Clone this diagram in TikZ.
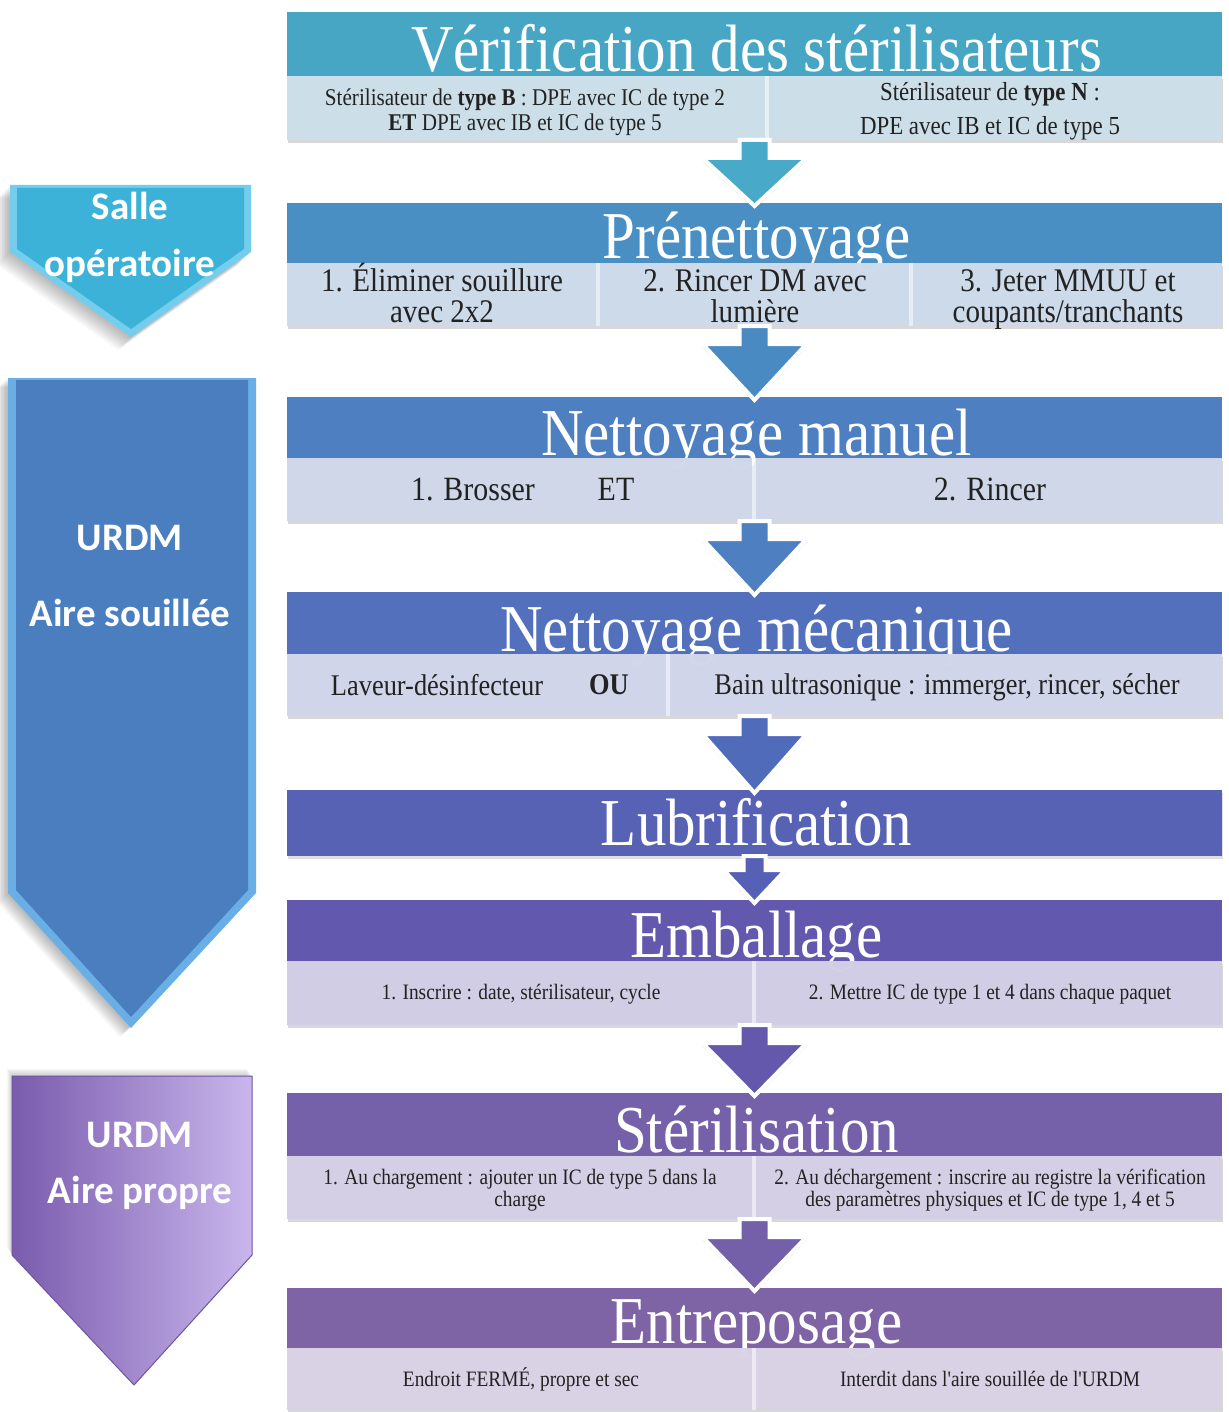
\documentclass[tikz,border=0pt]{standalone}
\usepackage{fontspec}
\setmainfont{Liberation Serif}
\newfontfamily\hf[FakeStretch=0.88]{Liberation Serif}
\newfontfamily\lf{Carlito}
\usetikzlibrary{shadows,calc}
\definecolor{c1h}{HTML}{48A6C5}\definecolor{c1s}{HTML}{C9DDE7}
\definecolor{c2h}{HTML}{4A8FC4}\definecolor{c2s}{HTML}{C9D8E9}
\definecolor{c3h}{HTML}{4E80C1}\definecolor{c3s}{HTML}{CCD5E8}
\definecolor{c4h}{HTML}{5270BC}\definecolor{c4s}{HTML}{CDD2E9}
\definecolor{c5h}{HTML}{5762B5}
\definecolor{c6h}{HTML}{6259AE}\definecolor{c6s}{HTML}{CDCAE4}
\definecolor{c7h}{HTML}{7461A9}\definecolor{c7s}{HTML}{D3CCE4}
\definecolor{c8h}{HTML}{7E64A4}\definecolor{c8s}{HTML}{D7CFE4}
\definecolor{a1}{HTML}{49A9C9}\definecolor{a2}{HTML}{4A8AC3}
\definecolor{a3}{HTML}{4E7FC1}\definecolor{a4}{HTML}{516BBB}
\definecolor{a5}{HTML}{5660B5}\definecolor{a6}{HTML}{6458AD}
\definecolor{a7}{HTML}{7460A9}
\definecolor{txt}{HTML}{222222}
\definecolor{soBev}{HTML}{74CDEC}\definecolor{soMain}{HTML}{3DB2D8}
\definecolor{usBev}{HTML}{6AAEE6}\definecolor{usMain}{HTML}{4A7EBF}
\definecolor{apL}{HTML}{7A5BAD}\definecolor{apR}{HTML}{C8B6EC}\definecolor{apE}{HTML}{6B55A3}
\newcommand\nodepth[1]{\raisebox{0pt}[\height][0pt]{#1}}
\tikzset{
  headbox/.style={fill=#1, draw=none, inner sep=0pt, outer sep=0pt, minimum width=935pt, anchor=north west},
  subbg/.style={fill=#1!45!white, draw=none, inner sep=0pt, outer sep=0pt, minimum width=935pt, anchor=north west,
     drop shadow={shadow xshift=1pt, shadow yshift=-3pt, opacity=0.3}},
  cellbox/.style={fill=#1, fill opacity=0.88, draw=none, inner sep=0pt, outer sep=0pt, anchor=north west},
  title/.style={text=white, font=\hf\fontsize{67}{67}\selectfont, inner sep=0pt, anchor=base},
  ct/.style={text=txt, inner sep=0pt, anchor=base},
  lbl/.style={text=white, font=\lf\bfseries\fontsize{39}{57}\selectfont, align=center, inner sep=0pt},
  arrshadow/.style={drop shadow={shadow xshift=0pt, shadow yshift=-3pt, opacity=0.25}}
}
\newcommand\flowarrow[6]{%
  \path[fill=#3, draw=white, line width=4pt, line join=miter, arrshadow]
  let \p1=(#1.south), \p2=(#2.north) in
  (\x2-#4pt,\y1) -- (\x2-#4pt,\y1-#6pt) -- (\x2-#5pt,\y1-#6pt) -- (\x2,\y2-3pt)
  -- (\x2+#5pt,\y1-#6pt) -- (\x2+#4pt,\y1-#6pt) -- (\x2+#4pt,\y1) -- cycle;}
\begin{document}
\begin{tikzpicture}[x=1pt,y=-1pt]
\useasboundingbox (0,0) rectangle (1228,1412);
\fill[white] (0,0) rectangle (1228,1412);

% ---------- left zone arrows ----------
% Salle operatoire
\foreach \i in {1,...,8}{
  \fill[black, opacity=0.035, shift={(-\i*1.6,\i*1.6)}] (10,185) -- (251,185) -- (251,252) -- (131,337) -- (10,252) -- cycle;}
\fill[soBev] (10,185) -- (251,185) -- (251,252) -- (131,337) -- (10,252) -- cycle;
\fill[soMain] (17,188) -- (244,188) -- (244,249) -- (131,329) -- (17,249) -- cycle;
\node[lbl] (zone1) at (130,237) {Salle\\opératoire};

% URDM Aire souillee
\foreach \i in {1,...,8}{
  \fill[black, opacity=0.035, shift={(-\i*1.4,\i*1.1)}] (8,378) -- (256,378) -- (256,893) -- (131,1028) -- (8,893) -- cycle;}
\fill[usBev] (8,378) -- (256,378) -- (256,893) -- (131,1028) -- (8,893) -- cycle;
\fill[usMain] (16,380) -- (248,380) -- (248,890) -- (131,1017) -- (16,890) -- cycle;
\node[lbl, font=\lf\bfseries\fontsize{39}{76}\selectfont] (zone2) at (130,576) {URDM\\Aire souillée};

% URDM Aire propre
\foreach \i in {1,...,6}{
  \fill[black, opacity=0.03, shift={(-\i*0.8,-\i*1.2)}] (12,1076) -- (252,1076) -- (252,1255) -- (134,1385) -- (12,1255) -- cycle;}
\shade[left color=apL, right color=apR] (12,1076) -- (252,1076) -- (252,1255) -- (134,1385) -- (12,1255) -- cycle;
\draw[apE, line width=1pt] (12,1076) -- (252,1076) -- (252,1255) -- (134,1385) -- (12,1255) -- cycle;
\node[lbl, font=\lf\bfseries\fontsize{39}{56}\selectfont] (zone3) at (140,1166) {URDM\\Aire propre};

% ---------- Block 1 : Verification ----------
\node[headbox=c1h, minimum height=64pt] (h1) at (287,12) {};
\node[subbg=c1s, minimum height=64pt] (s1) at (287,76) {};
\node[title] (t1) at (756.5,72) {\nodepth{Vérification des stérilisateurs}};
\node[cellbox=c1s, minimum width=478pt, minimum height=64pt] (s1a) at (287,76) {};
\node[cellbox=c1s, minimum width=453pt, minimum height=64pt] (s1b) at (769,76) {};
\node[ct, font=\hf\fontsize{24}{24}\selectfont] (x1a1) at (525,106) {Stérilisateur de \textbf{type B} : DPE avec IC de type 2};
\node[ct, font=\hf\fontsize{24}{24}\selectfont] (x1a2) at (525,131) {\textbf{ET} DPE avec IB et IC de type 5};
\node[ct, font=\hf\fontsize{26}{26}\selectfont] (x1b1) at (990,101) {Stérilisateur de \textbf{type N} :};
\node[ct, font=\hf\fontsize{26}{26}\selectfont] (x1b2) at (990,135) {DPE avec IB et IC de type 5};

% ---------- Block 2 : Prenettoyage ----------
\node[headbox=c2h, minimum height=60pt] (h2) at (287,203) {};
\node[subbg=c2s, minimum height=63pt] (s2) at (287,263) {};
\node[title] (t2) at (756.5,259) {\nodepth{Prénettoyage}};
\node[cellbox=c2s, minimum width=309pt, minimum height=63pt] (s2a) at (287,263) {};
\node[cellbox=c2s, minimum width=309pt, minimum height=63pt] (s2b) at (600,263) {};
\node[cellbox=c2s, minimum width=309pt, minimum height=63pt] (s2c) at (913,263) {};
\node[ct, font=\hf\fontsize{33}{33}\selectfont] (x2a1) at (442,292) {1. Éliminer souillure};
\node[ct, font=\hf\fontsize{33}{33}\selectfont] (x2a2) at (442,322) {avec 2x2};
\node[ct, font=\hf\fontsize{33}{33}\selectfont] (x2b1) at (755,292) {2. Rincer DM avec};
\node[ct, font=\hf\fontsize{33}{33}\selectfont] (x2b2) at (755,322) {lumière};
\node[ct, font=\hf\fontsize{33}{33}\selectfont] (x2c1) at (1068,292) {3. Jeter MMUU et};
\node[ct, font=\hf\fontsize{33}{33}\selectfont] (x2c2) at (1068,322) {coupants/tranchants};

% ---------- Block 3 : Nettoyage manuel ----------
\node[headbox=c3h, minimum height=61pt] (h3) at (287,397) {};
\node[subbg=c3s, minimum height=63pt] (s3) at (287,458) {};
\node[title] (t3) at (756.5,455) {\nodepth{Nettoyage manuel}};
\node[cellbox=c3s, minimum width=465pt, minimum height=63pt] (s3a) at (287,458) {};
\node[cellbox=c3s, minimum width=466pt, minimum height=63pt] (s3b) at (756,458) {};
\node[ct, font=\hf\fontsize{34}{34}\selectfont] (x3a) at (473,500) {1. Brosser};
\node[ct, font=\hf\fontsize{34}{34}\selectfont] (x3b) at (616,500) {ET};
\node[ct, font=\hf\fontsize{34}{34}\selectfont] (x3c) at (990,500) {2. Rincer};

% ---------- Block 4 : Nettoyage mecanique ----------
\node[headbox=c4h, minimum height=62pt] (h4) at (287,592) {};
\node[subbg=c4s, minimum height=62pt] (s4) at (287,654) {};
\node[title] (t4) at (756.5,651) {\nodepth{Nettoyage mécanique}};
\node[cellbox=c4s, minimum width=379pt, minimum height=62pt] (s4a) at (287,654) {};
\node[cellbox=c4s, minimum width=552pt, minimum height=62pt] (s4b) at (670,654) {};
\node[ct, font=\hf\fontsize{30}{30}\selectfont] (x4a) at (437,695) {Laveur-désinfecteur};
\node[ct, font=\hf\bfseries\fontsize{30}{30}\selectfont] (x4b) at (609,694) {OU};
\node[ct, font=\hf\fontsize{30}{30}\selectfont] (x4c) at (947,694) {Bain ultrasonique : immerger, rincer, sécher};

% ---------- Block 5 : Lubrification ----------
\node[headbox=c5h, minimum height=66pt, drop shadow={shadow xshift=1pt, shadow yshift=-3pt, opacity=0.25}] (h5) at (287,790) {};
\node[title] (t5) at (756.5,845) {Lubrification};

% ---------- Block 6 : Emballage ----------
\node[headbox=c6h, minimum height=61pt] (h6) at (287,900) {};
\node[subbg=c6s, minimum height=64pt] (s6) at (287,961) {};
\node[title] (t6) at (756.5,957) {\nodepth{Emballage}};
\node[cellbox=c6s, minimum width=465pt, minimum height=64pt] (s6a) at (287,961) {};
\node[cellbox=c6s, minimum width=466pt, minimum height=64pt] (s6b) at (756,961) {};
\node[ct, font=\hf\fontsize{22}{22}\selectfont] (x6a) at (521,999) {1. Inscrire : date, stérilisateur, cycle};
\node[ct, font=\hf\fontsize{22}{22}\selectfont] (x6b) at (990,999) {2. Mettre IC de type 1 et 4 dans chaque paquet};

% ---------- Block 7 : Sterilisation ----------
\node[headbox=c7h, minimum height=63pt] (h7) at (287,1093) {};
\node[subbg=c7s, minimum height=63pt] (s7) at (287,1156) {};
\node[title] (t7) at (756.5,1152) {\nodepth{Stérilisation}};
\node[cellbox=c7s, minimum width=465pt, minimum height=63pt] (s7a) at (287,1156) {};
\node[cellbox=c7s, minimum width=466pt, minimum height=63pt] (s7b) at (756,1156) {};
\node[ct, font=\hf\fontsize{22}{22}\selectfont] (x7a1) at (520,1184) {1. Au chargement : ajouter un IC de type 5 dans la};
\node[ct, font=\hf\fontsize{22}{22}\selectfont] (x7a2) at (520,1206) {charge};
\node[ct, font=\hf\fontsize{22}{22}\selectfont] (x7b1) at (990,1184) {2. Au déchargement : inscrire au registre la vérification};
\node[ct, font=\hf\fontsize{22}{22}\selectfont] (x7b2) at (990,1206) {des paramètres physiques et IC de type 1, 4 et 5};

% ---------- Block 8 : Entreposage ----------
\node[headbox=c8h, minimum height=60pt] (h8) at (287,1288) {};
\node[subbg=c8s, minimum height=62pt] (s8) at (287,1348) {};
\node[title] (t8) at (756.5,1343) {\nodepth{Entreposage}};
\node[cellbox=c8s, minimum width=465pt, minimum height=62pt] (s8a) at (287,1348) {};
\node[cellbox=c8s, minimum width=466pt, minimum height=62pt] (s8b) at (756,1348) {};
\node[ct, font=\hf\fontsize{22}{22}\selectfont] (x8a) at (521,1386) {Endroit FERMÉ, propre et sec};
\node[ct, font=\hf\fontsize{22}{22}\selectfont] (x8b) at (990,1386) {Interdit dans l'aire souillée de l'URDM};

% ---------- flow arrows ----------
\flowarrow{s1}{h2}{a1}{15}{52}{18}
\flowarrow{s2}{h3}{a2}{15}{52}{18}
\flowarrow{s3}{h4}{a3}{15}{52}{18}
\flowarrow{s4}{h5}{a4}{15}{52}{18}
\flowarrow{h5}{h6}{a5}{11}{31}{14}
\flowarrow{s6}{h7}{a6}{15}{52}{18}
\flowarrow{s7}{h8}{a7}{15}{52}{18}
\end{tikzpicture}
\end{document}
